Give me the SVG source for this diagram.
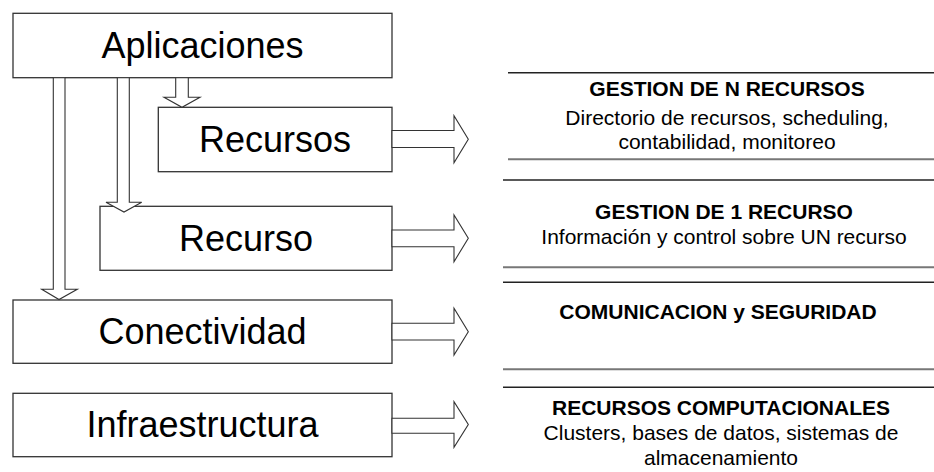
<svg xmlns="http://www.w3.org/2000/svg" width="934" height="472" viewBox="0 0 934 472">
<style>
.box{fill:#fff;stroke:#333;stroke-width:1.3}
.lbl{font-family:"Liberation Sans",Arial,sans-serif;font-size:36px;fill:#000;text-anchor:middle}
.arr{fill:#fff;stroke:#333;stroke-width:1.1;stroke-linejoin:miter}
.ln1{stroke:#222;stroke-width:1.4}
.ln2{stroke:#777;stroke-width:2}
.hd{font-family:"Liberation Sans",Arial,sans-serif;font-size:21px;font-weight:bold;fill:#000;text-anchor:middle}
.tx{font-family:"Liberation Sans",Arial,sans-serif;font-size:21px;fill:#000;text-anchor:middle}
</style>
<rect width="934" height="472" fill="#fff"/>
<g id="aplicaciones">
  <rect class="box" x="13" y="13.3" width="379" height="64.4"/>
  <text class="lbl" x="202.5" y="57.5">Aplicaciones</text>
</g>
<g id="recursos">
  <rect class="box" x="158.3" y="107.3" width="233.7" height="64.4"/>
  <text class="lbl" x="275" y="152">Recursos</text>
</g>
<g id="recurso">
  <rect class="box" x="100" y="206.3" width="292" height="64"/>
  <text class="lbl" x="246" y="250.5">Recurso</text>
</g>
<g id="conectividad">
  <rect class="box" x="13" y="300" width="379" height="63.3"/>
  <text class="lbl" x="202.5" y="343.5">Conectividad</text>
</g>
<g id="infraestructura">
  <rect class="box" x="13" y="393.3" width="379" height="63.4"/>
  <text class="lbl" x="202.5" y="437">Infraestructura</text>
</g>
<g id="connectors">
  <polygon class="arr" points="53.3,77.7 65,77.7 65,289.3 77.3,289.3 59,299.5 41.7,289.3 53.3,289.3"/>
  <polygon class="arr" points="117.3,77.7 129.3,77.7 129.3,202.3 141.7,202.3 124,212 106,202.3 117.3,202.3"/>
  <polygon class="arr" points="175.7,77.7 188.3,77.7 188.3,97.3 200,97.3 182,107.3 164,97.3 175.7,97.3"/>
  <polygon class="arr" points="392,130.5 454,130.5 454,115.7 468.3,139.2 454,162.7 454,147.5 392,147.5"/>
  <polygon class="arr" points="392,230 454,230 454,215 468.3,238.3 454,261.7 454,246.7 392,246.7"/>
  <polygon class="arr" points="392,323.3 454,323.3 454,308.3 468.3,331.7 454,355 454,340 392,340"/>
  <polygon class="arr" points="392,418.3 454,418.3 454,401.7 468.3,424.5 454,447.3 454,433.3 392,433.3"/>
</g>
<g id="gestion-n">
  <line class="ln1" x1="508" y1="72.7" x2="934" y2="72.7"/>
  <line class="ln2" x1="508" y1="159.3" x2="934" y2="159.3"/>
  <text class="hd" x="727" y="95.5">GESTION DE N RECURSOS</text>
  <text class="tx" x="727" y="124.5">Directorio de recursos, scheduling,</text>
  <text class="tx" x="727" y="148.5">contabilidad, monitoreo</text>
</g>
<g id="gestion-1">
  <line class="ln1" x1="503" y1="180" x2="934" y2="180"/>
  <line class="ln2" x1="503" y1="267.3" x2="934" y2="267.3"/>
  <text class="hd" x="724" y="219">GESTION DE 1 RECURSO</text>
  <text class="tx" x="724" y="244">Información y control sobre UN recurso</text>
</g>
<g id="comunicacion">
  <line class="ln1" x1="503" y1="282.3" x2="934" y2="282.3"/>
  <line class="ln2" x1="503" y1="369.3" x2="934" y2="369.3"/>
  <text class="hd" x="718" y="319">COMUNICACION y SEGURIDAD</text>
</g>
<g id="recursos-comp">
  <line class="ln1" x1="503" y1="387.3" x2="934" y2="387.3"/>
  <text class="hd" x="721" y="415">RECURSOS COMPUTACIONALES</text>
  <text class="tx" x="721" y="440">Clusters, bases de datos, sistemas de</text>
  <text class="tx" x="721" y="465">almacenamiento</text>
</g>
</svg>
